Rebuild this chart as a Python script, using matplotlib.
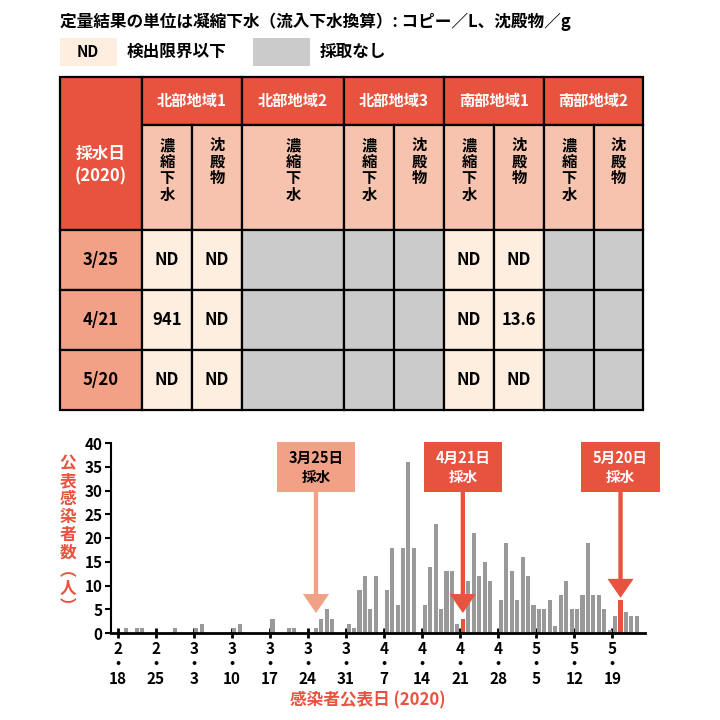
import datetime as dt
import matplotlib
matplotlib.use("Agg")
import matplotlib.pyplot as plt
from matplotlib.patches import Rectangle, FancyArrow

plt.rcParams["font.family"] = "Noto Sans CJK JP"
plt.rcParams["font.weight"] = "bold"

RED = "#E8533F"
PEACH = "#F5C3AE"
SALMON = "#F2A187"
CREAM = "#FDEEE0"
GRAY = "#CBCBCB"

# ---------------- data ----------------
regions = ["北部地域1", "北部地域2", "北部地域3", "南部地域1", "南部地域2"]
sample_dates = ["3/25", "4/21", "5/20"]
region1_north = [["ND", "ND"], ["941", "ND"], ["ND", "ND"]]
region1_south = [["ND", "ND"], ["ND", "13.6"], ["ND", "ND"]]

case_dates = ["2/19", "2/21", "2/22", "2/28", "3/3", "3/4", "3/10", "3/11", "3/17",
              "3/20", "3/21", "3/25", "3/26", "3/27", "3/28",
              "3/31", "4/1", "4/2", "4/3", "4/4", "4/5", "4/7", "4/8", "4/9", "4/10",
              "4/11", "4/12", "4/14", "4/15", "4/16", "4/17", "4/18", "4/19", "4/20",
              "4/21", "4/22", "4/23", "4/24", "4/25", "4/26", "4/28", "4/29", "4/30",
              "5/1", "5/2", "5/3", "5/4", "5/5", "5/6", "5/7", "5/8", "5/9", "5/10",
              "5/11", "5/12", "5/13", "5/14", "5/15", "5/16", "5/17", "5/18", "5/19",
              "5/20", "5/21", "5/22", "5/23"]
case_counts = [1, 1, 1, 1, 1, 2, 1, 2, 3,
               1, 1, 1, 3, 5, 3,
               2, 1, 9, 12, 5, 12, 9, 18, 6, 18,
               36, 18, 6, 14, 23, 5, 13, 13, 2,
               3, 11, 21, 12, 15, 11, 7, 19, 13,
               7, 16, 12, 6, 5, 5, 7, 1.5, 8, 11,
               5, 5, 8, 19, 8, 8, 5, 0.6, 3.5,
               7, 4.5, 3.5, 3.5]
red_dates = ["4/21", "5/20"]
tick_dates = ["2/18", "2/25", "3/3", "3/10", "3/17", "3/24", "3/31", "4/7",
              "4/14", "4/21", "4/28", "5/5", "5/12", "5/19"]
arrow_dates = ["3/25", "4/21", "5/20"]
arrow_labels = ["3月25日\n採水", "4月21日\n採水", "5月20日\n採水"]

START = dt.date(2020, 2, 18)
def dnum(s):
    m, d = map(int, s.split("/"))
    return (dt.date(2020, m, d) - START).days

fig = plt.figure(figsize=(7.2, 7.2), dpi=100)

# ---------------- table (pixel overlay) ----------------
T = fig.add_axes([0, 0, 1, 1])
T.set_xlim(0, 720); T.set_ylim(720, 0); T.axis("off")

T.text(60, 22, "定量結果の単位は凝縮下水（流入下水換算）: コピー／L、沈殿物／g",
       fontsize=12, va="center", ha="left")
T.add_patch(Rectangle((60, 38), 57, 28, fc=CREAM, ec="none"))
T.text(88, 52, "ND", fontsize=11, ha="center", va="center")
T.text(127, 52, "検出限界以下", fontsize=12, va="center")
T.add_patch(Rectangle((253, 38), 57, 28, fc=GRAY, ec="none"))
T.text(320, 52, "採取なし", fontsize=12, va="center")

lw = 1.6
xl, x0 = 60, 142
col_edges = [142, 242, 344, 444, 544, 643]
splits = {0: 192, 2: 394, 3: 494, 4: 594}
y_top, y_h1, y_h2 = 77, 125, 230
row_edges = [230, 290, 350, 410]

def cell(x, y, w, h, fc):
    T.add_patch(Rectangle((x, y), w, h, fc=fc, ec="black", lw=lw))

cell(xl, y_top, x0 - xl, y_h2 - y_top, RED)
T.text((xl + x0) / 2, 165, "採水日\n(2020)", color="white", fontsize=12,
       ha="center", va="center", linespacing=1.3)
for i, r in enumerate(regions):
    a, b = col_edges[i], col_edges[i + 1]
    cell(a, y_top, b - a, y_h1 - y_top, RED)
    T.text((a + b) / 2, 101, r, color="white", fontsize=11, ha="center", va="center")
    subs = [(a, splits[i]), (splits[i], b)] if i in splits else [(a, b)]
    labels = ["濃\n縮\n下\n水", "沈\n殿\n物"]
    for k, (s, e) in enumerate(subs):
        cell(s, y_h1, e - s, y_h2 - y_h1, PEACH)
        T.text((s + e) / 2, 137, labels[k], fontsize=11, ha="center", va="top",
               linespacing=1.05)
for j, d in enumerate(sample_dates):
    y0, y1 = row_edges[j], row_edges[j + 1]
    cell(xl, y0, x0 - xl, y1 - y0, SALMON)
    T.text((xl + x0) / 2, (y0 + y1) / 2, d, fontsize=12, ha="center", va="center")
    for i in range(len(regions)):
        a, b = col_edges[i], col_edges[i + 1]
        if i in (0, 3):
            vals = region1_north[j] if i == 0 else region1_south[j]
            subs = [(a, splits[i]), (splits[i], b)]
            for k, (s, e) in enumerate(subs):
                cell(s, y0, e - s, y1 - y0, CREAM)
                T.text((s + e) / 2, (y0 + y1) / 2, vals[k], fontsize=12,
                       ha="center", va="center")
        else:
            cell(a, y0, b - a, y1 - y0, GRAY)
            if i in splits:
                T.plot([splits[i]] * 2, [y0, y1], color="black", lw=lw)

# ---------------- bar chart ----------------
ax = fig.add_axes([111 / 720, (720 - 633) / 720, 534 / 720, 190 / 720])
xs = [dnum(d) + 0.5 for d in case_dates]
cols = [RED if d in red_dates else "#999999" for d in case_dates]
ax.bar(xs, case_counts, width=0.75, color=cols, zorder=2)
ax.set_xlim(-1.2, 97)
ax.set_ylim(0, 40)
ax.set_yticks(range(0, 41, 5))
ax.set_xticks([dnum(d) for d in tick_dates])
ax.set_xticklabels([d.replace("/", "\n・\n") for d in tick_dates], fontsize=11,
                   linespacing=0.95)
ax.tick_params(axis="x", length=7, width=2, direction="inout", pad=2)
ax.tick_params(axis="y", length=4, width=1.5, labelsize=11, pad=2)
for s in ("top", "right"):
    ax.spines[s].set_visible(False)
ax.spines["bottom"].set_linewidth(2)
ax.spines["left"].set_linewidth(1.5)
ax.set_facecolor("none")

arrow_cols = [SALMON, RED, RED]
tips = [4.2, 4.2, 7.4]
for d, lab, c, tip in zip(arrow_dates, arrow_labels, arrow_cols, tips):
    x = dnum(d) + 0.5
    ax.add_patch(Rectangle((x - 7.2, 29.6), 14.4, 10.6, fc=c, ec="none",
                           clip_on=False, zorder=3))
    ax.text(x, 34.9, lab, ha="center", va="center", fontsize=10.5,
            color="black" if c == SALMON else "white", zorder=4, linespacing=1.25)
    ax.add_patch(FancyArrow(x, 29.7, 0, tip - 29.7, width=0.8, head_width=4.8,
                            head_length=4, length_includes_head=True,
                            fc=c, ec="none", zorder=3))

fig.text(68 / 720, 1 - 535 / 720, "\n".join("公表感染者数") + "\n︵\n人\n︶",
         color=RED, fontsize=12, ha="center", va="center", linespacing=1.0)
fig.text(368 / 720, 1 - 700 / 720, "感染者公表日 (2020)", color=RED, fontsize=12,
         ha="center", va="center")

fig.savefig("out.png", dpi=100)
